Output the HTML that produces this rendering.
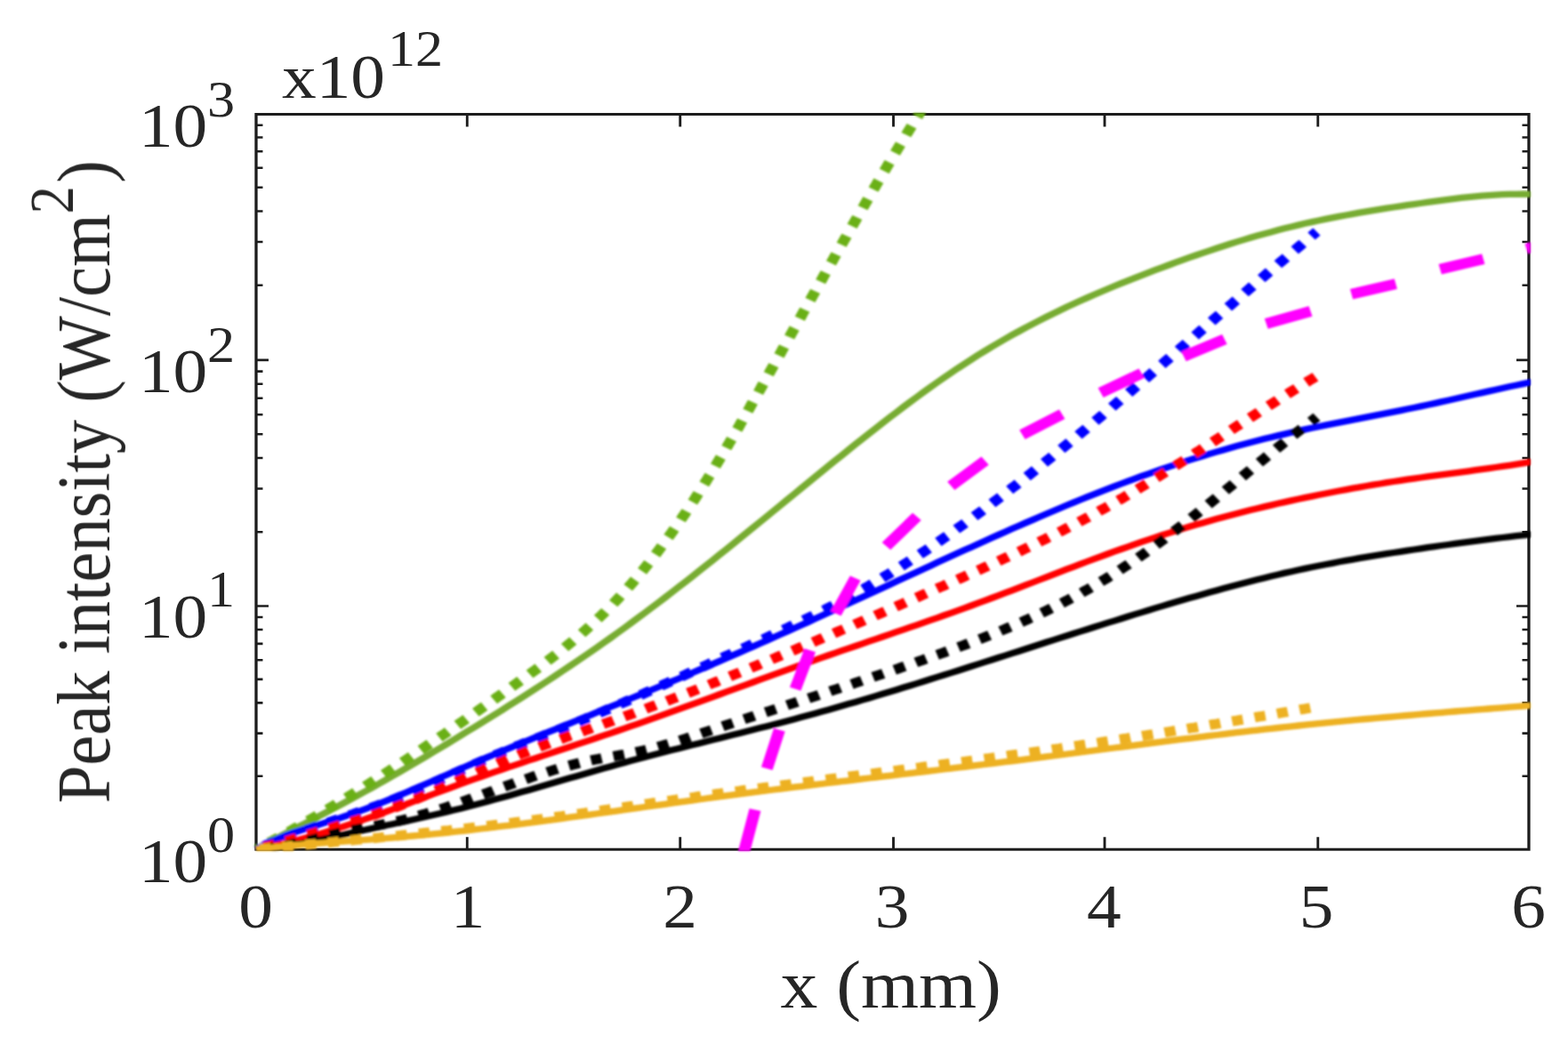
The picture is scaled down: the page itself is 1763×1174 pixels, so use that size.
<!DOCTYPE html>
<html lang="en"><head><meta charset="utf-8"><title>Peak intensity vs x</title>
<style>html,body{margin:0;padding:0;background:#fff}body{width:1763px;height:1174px;overflow:hidden}svg{display:block}</style></head>
<body>
<svg width="1763" height="1174" viewBox="0 0 1763 1174" role="img" aria-label="Peak intensity versus x">
<rect width="1763" height="1174" fill="#fff"/>
<defs><filter id="bc" x="-2%" y="-2%" width="104%" height="104%"><feGaussianBlur stdDeviation="0.85"/></filter><filter id="bt" x="-5%" y="-5%" width="110%" height="110%"><feGaussianBlur stdDeviation="0.7"/></filter><filter id="ba" x="-2%" y="-2%" width="104%" height="104%"><feGaussianBlur stdDeviation="0.4"/></filter></defs>
<g transform="scale(1.1 1)">
<g stroke="#1f1f1f" fill="none" stroke-width="3.0" filter="url(#ba)">
<rect x="261.8" y="128.5" width="1300.9" height="826.7"/>
<path d="M477.5 955.2v-14.0M477.5 128.5v14.0M695.2 955.2v-14.0M695.2 128.5v14.0M913.2 955.2v-14.0M913.2 128.5v14.0M1129.1 955.2v-14.0M1129.1 128.5v14.0M1347.1 955.2v-14.0M1347.1 128.5v14.0M261.8 681.5h12.7M1562.7 681.5h-12.7M261.8 404.9h12.7M1562.7 404.9h-12.7" stroke-width="2.6"/>
<path d="M261.8 872.8h6.8M1562.7 872.8h-6.8M261.8 824.6h6.8M1562.7 824.6h-6.8M261.8 790.4h6.8M1562.7 790.4h-6.8M261.8 763.9h6.8M1562.7 763.9h-6.8M261.8 742.2h6.8M1562.7 742.2h-6.8M261.8 723.9h6.8M1562.7 723.9h-6.8M261.8 708.0h6.8M1562.7 708.0h-6.8M261.8 694.0h6.8M1562.7 694.0h-6.8M261.8 598.2h6.8M1562.7 598.2h-6.8M261.8 549.5h6.8M1562.7 549.5h-6.8M261.8 515.0h6.8M1562.7 515.0h-6.8M261.8 488.2h6.8M1562.7 488.2h-6.8M261.8 466.3h6.8M1562.7 466.3h-6.8M261.8 447.7h6.8M1562.7 447.7h-6.8M261.8 431.7h6.8M1562.7 431.7h-6.8M261.8 417.6h6.8M1562.7 417.6h-6.8M261.8 320.7h6.8M1562.7 320.7h-6.8M261.8 272.0h6.8M1562.7 272.0h-6.8M261.8 237.5h6.8M1562.7 237.5h-6.8M261.8 210.7h6.8M1562.7 210.7h-6.8M261.8 188.8h6.8M1562.7 188.8h-6.8M261.8 170.3h6.8M1562.7 170.3h-6.8M261.8 154.5h6.8M1562.7 154.5h-6.8M261.8 140.8h6.8M1562.7 140.8h-6.8" stroke-width="2.6"/>
</g>
<defs><clipPath id="c"><rect x="260" y="126.9" width="1304.4" height="830.1"/></clipPath></defs>
<g filter="url(#bc)"><g clip-path="url(#c)" fill="none">
<path d="M261.8 955.2L268.8 950.9L275.7 946.7L282.7 942.6L289.7 938.5L296.6 934.5L303.6 930.5L310.6 926.6L317.5 922.6L324.5 918.6L331.4 914.7L338.4 910.7L345.4 906.6L352.3 902.5L359.3 898.4L366.3 894.2L373.2 890.0L380.2 885.8L387.1 881.5L394.1 877.1L401.1 872.7L408.0 868.3L415.0 863.9L421.9 859.4L428.9 854.9L435.9 850.4L442.8 845.8L449.8 841.2L456.8 836.6L463.7 832.0L470.7 827.3L477.6 822.6L484.6 818.0L491.6 813.2L498.5 808.5L505.5 803.7L512.5 799.0L519.4 794.1L526.4 789.3L533.3 784.4L540.3 779.5L547.3 774.6L554.2 769.6L561.2 764.6L568.2 759.5L575.1 754.4L582.1 749.3L589.0 744.1L596.0 738.9L603.0 733.6L609.9 728.3L616.9 722.9L623.9 717.5L630.8 712.0L637.8 706.5L644.7 700.9L651.7 695.2L658.7 689.5L665.6 683.8L672.6 678.0L679.6 672.1L686.5 666.3L693.5 660.3L700.4 654.4L707.4 648.4L714.4 642.3L721.3 636.3L728.3 630.2L735.2 624.0L742.2 617.9L749.2 611.7L756.1 605.5L763.1 599.3L770.1 593.1L777.0 586.9L784.0 580.6L790.9 574.4L797.9 568.1L804.9 561.8L811.8 555.6L818.8 549.3L825.8 543.0L832.7 536.8L839.7 530.5L846.6 524.3L853.6 518.1L860.6 511.9L867.5 505.7L874.5 499.6L881.5 493.5L888.4 487.4L895.4 481.4L902.3 475.4L909.3 469.5L916.3 463.7L923.2 457.9L930.2 452.1L937.2 446.5L944.1 440.9L951.1 435.4L958.0 430.0L965.0 424.6L972.0 419.4L978.9 414.2L985.9 409.2L992.9 404.2L999.8 399.3L1006.8 394.6L1013.7 390.0L1020.7 385.5L1027.7 381.0L1034.6 376.7L1041.6 372.5L1048.5 368.3L1055.5 364.3L1062.5 360.3L1069.4 356.5L1076.4 352.7L1083.4 349.0L1090.3 345.3L1097.3 341.8L1104.2 338.3L1111.2 334.9L1118.2 331.5L1125.1 328.2L1132.1 325.0L1139.1 321.8L1146.0 318.7L1153.0 315.6L1159.9 312.6L1166.9 309.6L1173.9 306.6L1180.8 303.7L1187.8 300.8L1194.8 298.0L1201.7 295.2L1208.7 292.4L1215.6 289.7L1222.6 287.0L1229.6 284.4L1236.5 281.8L1243.5 279.3L1250.5 276.8L1257.4 274.3L1264.4 271.9L1271.3 269.6L1278.3 267.3L1285.3 265.1L1292.2 262.9L1299.2 260.9L1306.2 258.8L1313.1 256.8L1320.1 254.9L1327.0 253.1L1334.0 251.3L1341.0 249.6L1347.9 248.0L1354.9 246.4L1361.8 244.9L1368.8 243.4L1375.8 242.0L1382.7 240.6L1389.7 239.2L1396.7 237.9L1403.6 236.7L1410.6 235.4L1417.5 234.2L1424.5 233.0L1431.5 231.9L1438.4 230.7L1445.4 229.6L1452.4 228.5L1459.3 227.4L1466.3 226.3L1473.2 225.3L1480.2 224.3L1487.2 223.3L1494.1 222.4L1501.1 221.6L1508.1 220.9L1515.0 220.2L1522.0 219.6L1528.9 219.1L1535.9 218.7L1542.9 218.4L1549.8 218.3L1556.8 218.2L1563.8 218.3L1566.4 218.4" stroke="#77AC30" stroke-width="7.3" stroke-linejoin="round"/>
<path d="M261.8 955.2L264.7 953.6M275.2 947.4L278.4 945.5L281.6 943.6L284.8 941.7M295.2 935.4L298.3 933.4L301.5 931.4L304.7 929.5M315.0 923.0L318.1 921.0L321.3 918.9L324.4 916.9M334.6 910.3L337.7 908.2L340.8 906.2L343.9 904.1M354.0 897.3L357.1 895.2L360.2 893.1L363.3 891.0M373.3 884.1L376.3 882.0L379.4 879.8L382.5 877.7M392.4 870.7L395.4 868.5L398.5 866.3L401.5 864.2M411.4 857.1L414.4 854.9L417.4 852.7L420.4 850.5M430.2 843.3L433.2 841.1L436.2 838.8L439.2 836.6M449.0 829.3L452.0 827.1L455.0 824.9L457.9 822.6M467.6 815.3L470.6 813.0L473.6 810.8L476.5 808.5M486.2 801.1L489.2 798.8L492.1 796.5L495.1 794.3M504.7 786.8L507.6 784.5L510.6 782.2L513.5 779.9M523.1 772.4L526.0 770.1L529.0 767.8L531.9 765.5M541.4 758.0L544.4 755.6L547.3 753.3L550.2 751.0M559.6 743.3L562.5 740.9L565.3 738.5L568.2 736.1M577.3 728.1L580.1 725.6L582.9 723.1L585.7 720.6M594.6 712.3L597.3 709.7L599.9 707.1L602.6 704.5M611.1 695.8L613.7 693.2L616.3 690.4L618.8 687.7M627.0 678.7L629.4 675.9L631.9 673.0L634.3 670.2M642.0 660.8L644.4 657.9L646.7 655.0L649.0 652.0M656.4 642.4L658.6 639.4L660.8 636.4L663.0 633.4M670.1 623.5L672.2 620.4L674.3 617.3L676.4 614.2M683.2 604.1L685.3 601.0L687.3 597.9L689.3 594.8M695.9 584.5L697.8 581.3L699.8 578.2L701.7 575.0M708.0 564.6L710.0 561.4L711.9 558.2L713.7 554.9M719.8 544.4L721.7 541.2L723.5 537.9L725.4 534.7M731.3 524.1L733.1 520.8L734.9 517.5L736.7 514.2M742.5 503.6L744.3 500.3L746.0 497.0L747.8 493.7M753.5 483.0L755.3 479.7L757.0 476.3L758.7 473.0M764.4 462.3L766.1 459.0L767.8 455.6L769.5 452.3M775.1 441.5L776.8 438.2L778.5 434.9L780.2 431.6M785.7 420.7L787.4 417.4L789.1 414.1L790.8 410.8M796.4 399.9L798.1 396.6L799.7 393.3L801.4 389.9M807.0 379.1L808.6 375.8L810.3 372.4L812.0 369.1M817.6 358.3L819.2 355.0L820.9 351.6L822.6 348.3M828.2 337.5L829.9 334.1L831.6 330.8L833.3 327.5M838.8 316.7L840.5 313.4L842.2 310.0L843.9 306.7M849.5 295.9L851.2 292.6L852.9 289.3L854.6 285.9M860.2 275.2L861.9 271.8L863.7 268.5L865.4 265.2M871.0 254.4L872.7 251.1L874.5 247.8L876.2 244.5M881.9 233.8L883.6 230.5L885.4 227.2L887.1 223.9M892.8 213.1L894.6 209.8L896.3 206.5L898.1 203.2M903.9 192.5L905.6 189.3L907.4 186.0L909.2 182.7M915.0 172.0L916.8 168.7L918.6 165.5L920.4 162.2M926.3 151.6L928.1 148.3L930.0 145.1L931.8 141.8M937.8 131.2L939.6 128.0L941.5 124.7L943.3 121.5" stroke="#6AB016" stroke-width="11.2"/>
<path d="M261.8 955.2L268.8 951.0L275.7 947.2L282.7 943.8L289.7 940.6L296.6 937.7L303.6 935.0L310.6 932.5L317.5 930.1L324.5 927.7L331.4 925.4L338.4 923.0L345.4 920.6L352.3 918.0L359.3 915.4L366.3 912.6L373.2 909.8L380.2 906.9L387.1 903.9L394.1 900.8L401.1 897.6L408.0 894.4L415.0 891.2L421.9 887.9L428.9 884.6L435.9 881.3L442.8 877.9L449.8 874.5L456.8 871.2L463.7 867.8L470.7 864.5L477.6 861.2L484.6 857.9L491.6 854.6L498.5 851.4L505.5 848.2L512.5 844.9L519.4 841.8L526.4 838.6L533.3 835.4L540.3 832.3L547.3 829.1L554.2 826.0L561.2 822.9L568.2 819.8L575.1 816.7L582.1 813.6L589.0 810.5L596.0 807.4L603.0 804.3L609.9 801.2L616.9 798.1L623.9 794.9L630.8 791.8L637.8 788.7L644.7 785.5L651.7 782.4L658.7 779.2L665.6 776.0L672.6 772.8L679.6 769.6L686.5 766.4L693.5 763.2L700.4 759.9L707.4 756.7L714.4 753.4L721.3 750.1L728.3 746.9L735.2 743.6L742.2 740.3L749.2 736.9L756.1 733.6L763.1 730.3L770.1 726.9L777.0 723.5L784.0 720.1L790.9 716.7L797.9 713.3L804.9 709.9L811.8 706.5L818.8 703.0L825.8 699.6L832.7 696.1L839.7 692.6L846.6 689.1L853.6 685.6L860.6 682.1L867.5 678.6L874.5 675.1L881.5 671.5L888.4 668.0L895.4 664.5L902.3 660.9L909.3 657.4L916.3 653.8L923.2 650.3L930.2 646.8L937.2 643.2L944.1 639.7L951.1 636.2L958.0 632.6L965.0 629.1L972.0 625.6L978.9 622.1L985.9 618.6L992.9 615.2L999.8 611.7L1006.8 608.3L1013.7 604.8L1020.7 601.4L1027.7 598.0L1034.6 594.6L1041.6 591.2L1048.5 587.9L1055.5 584.6L1062.5 581.3L1069.4 578.0L1076.4 574.7L1083.4 571.5L1090.3 568.3L1097.3 565.2L1104.2 562.0L1111.2 558.9L1118.2 555.9L1125.1 552.8L1132.1 549.9L1139.1 546.9L1146.0 544.0L1153.0 541.1L1159.9 538.3L1166.9 535.5L1173.9 532.8L1180.8 530.1L1187.8 527.5L1194.8 524.9L1201.7 522.4L1208.7 519.9L1215.6 517.4L1222.6 515.0L1229.6 512.7L1236.5 510.4L1243.5 508.1L1250.5 505.9L1257.4 503.7L1264.4 501.6L1271.3 499.6L1278.3 497.5L1285.3 495.6L1292.2 493.6L1299.2 491.7L1306.2 489.9L1313.1 488.1L1320.1 486.3L1327.0 484.6L1334.0 482.9L1341.0 481.3L1347.9 479.7L1354.9 478.1L1361.8 476.6L1368.8 475.1L1375.8 473.6L1382.7 472.1L1389.7 470.6L1396.7 469.1L1403.6 467.6L1410.6 466.1L1417.5 464.6L1424.5 463.1L1431.5 461.6L1438.4 460.0L1445.4 458.5L1452.4 456.9L1459.3 455.2L1466.3 453.6L1473.2 451.9L1480.2 450.2L1487.2 448.5L1494.1 446.8L1501.1 445.0L1508.1 443.3L1515.0 441.6L1522.0 439.9L1528.9 438.2L1535.9 436.5L1542.9 434.8L1549.8 433.2L1556.8 431.6L1563.8 430.0L1566.4 429.4" stroke="#0000FF" stroke-width="7.3" stroke-linejoin="round"/>
<path d="M270.1 951.3L273.5 949.7L276.9 948.2L280.3 946.7M291.5 941.9L295.0 940.5L298.4 939.1L301.9 937.7M313.2 933.3L316.7 931.9L320.2 930.6L323.7 929.3M335.1 925.1L338.6 923.8L342.1 922.5L345.6 921.2M357.0 917.0L360.5 915.7L364.0 914.3L367.5 913.0M378.8 908.7L382.3 907.3L385.8 905.9L389.2 904.5M400.5 899.8L403.9 898.3L407.3 896.8L410.7 895.3M421.8 890.3L425.2 888.7L428.6 887.1L431.9 885.5M442.9 880.2L446.2 878.6L449.6 877.0L452.9 875.3M463.8 869.9L467.2 868.3L470.5 866.6L473.9 865.0M484.8 859.6L488.1 857.9L491.5 856.3L494.9 854.7M505.8 849.4L509.2 847.8L512.6 846.3L516.0 844.7M527.0 839.7L530.5 838.2L533.9 836.6L537.3 835.1M548.4 830.3L551.9 828.8L555.3 827.3L558.7 825.8M569.9 821.0L573.3 819.5L576.7 818.0L580.1 816.5M591.2 811.6L594.6 810.0L598.0 808.5L601.4 806.9M612.5 801.8L615.9 800.2L619.2 798.7L622.6 797.1M633.6 791.8L637.0 790.2L640.3 788.6L643.7 787.0M654.6 781.6L658.0 780.0L661.3 778.3L664.7 776.7M675.6 771.3L678.9 769.6L682.2 768.0L685.6 766.3M696.4 760.9L699.8 759.2L703.1 757.5L706.5 755.8M717.3 750.3L720.6 748.7L724.0 747.0L727.3 745.3M738.2 739.8L741.5 738.1L744.8 736.5L748.2 734.8M759.0 729.3L762.4 727.7L765.7 726.0L769.1 724.3M779.9 718.9L783.3 717.2L786.6 715.5L789.9 713.8M800.7 708.3L804.1 706.6L807.4 704.8L810.7 703.1M821.4 697.5L824.7 695.7L828.0 693.9L831.3 692.2M842.0 686.3L845.2 684.5L848.5 682.6L851.7 680.8M862.2 674.7L865.4 672.8L868.7 670.9L871.8 668.9M882.2 662.5L885.4 660.6L888.5 658.6L891.7 656.5M901.8 649.9L904.9 647.8L908.1 645.8L911.1 643.7M921.2 636.8L924.2 634.7L927.3 632.5L930.3 630.4M940.2 623.3L943.3 621.1L946.3 618.9L949.3 616.7M959.0 609.4L962.0 607.2L965.0 604.9L968.0 602.7M977.6 595.2L980.5 592.9L983.5 590.6L986.4 588.3M995.9 580.7L998.8 578.4L1001.7 576.1L1004.6 573.7M1014.0 566.0L1016.9 563.6L1019.8 561.2L1022.7 558.9M1032.0 551.0L1034.8 548.6L1037.7 546.2L1040.5 543.8M1049.7 535.9L1052.6 533.4L1055.4 531.0L1058.2 528.5M1067.3 520.5L1070.1 518.1L1072.9 515.6L1075.7 513.1M1084.8 505.0L1087.6 502.5L1090.4 500.0L1093.2 497.5M1102.2 489.4L1104.9 486.9L1107.7 484.4L1110.5 481.8M1119.4 473.6L1122.2 471.1L1124.9 468.6L1127.7 466.0M1136.6 457.8L1139.3 455.2L1142.0 452.7L1144.8 450.1M1153.7 441.8L1156.4 439.3L1159.1 436.7L1161.8 434.2M1170.7 425.8L1173.4 423.3L1176.1 420.7L1178.8 418.1M1187.6 409.8L1190.4 407.2L1193.1 404.6L1195.8 402.1M1204.6 393.7L1207.3 391.1L1210.0 388.6L1212.7 386.0M1221.5 377.6L1224.2 375.0L1226.9 372.4L1229.6 369.9M1238.4 361.5L1241.1 358.9L1243.8 356.3L1246.5 353.8M1255.3 345.4L1258.1 342.8L1260.8 340.2L1263.5 337.7M1272.3 329.3L1275.0 326.7L1277.7 324.2L1280.4 321.6M1289.3 313.3L1292.0 310.7L1294.7 308.1L1297.4 305.6M1306.3 297.3L1309.0 294.7L1311.8 292.2L1314.5 289.6M1323.4 281.3L1326.1 278.8L1328.9 276.3L1331.6 273.7M1340.5 265.5L1343.2 263.0L1345.9 260.6" stroke="#0000FF" stroke-width="11.2"/>
<path d="M261.8 955.2L268.8 953.7L275.7 952.0L282.7 950.3L289.7 948.6L296.6 946.7L303.6 944.7L310.6 942.7L317.5 940.6L324.5 938.4L331.4 936.2L338.4 933.8L345.4 931.4L352.3 929.0L359.3 926.4L366.3 923.8L373.2 921.2L380.2 918.5L387.1 915.7L394.1 913.0L401.1 910.2L408.0 907.3L415.0 904.5L421.9 901.6L428.9 898.8L435.9 895.9L442.8 893.0L449.8 890.2L456.8 887.3L463.7 884.5L470.7 881.7L477.6 878.9L484.6 876.2L491.6 873.5L498.5 870.8L505.5 868.2L512.5 865.6L519.4 862.9L526.4 860.4L533.3 857.8L540.3 855.2L547.3 852.7L554.2 850.1L561.2 847.6L568.2 845.0L575.1 842.5L582.1 840.0L589.0 837.4L596.0 834.9L603.0 832.3L609.9 829.8L616.9 827.2L623.9 824.6L630.8 822.0L637.8 819.4L644.7 816.7L651.7 814.1L658.7 811.4L665.6 808.7L672.6 805.9L679.6 803.2L686.5 800.4L693.5 797.7L700.4 794.9L707.4 792.1L714.4 789.3L721.3 786.6L728.3 783.8L735.2 781.0L742.2 778.2L749.2 775.4L756.1 772.6L763.1 769.8L770.1 767.0L777.0 764.2L784.0 761.4L790.9 758.7L797.9 755.9L804.9 753.2L811.8 750.4L818.8 747.7L825.8 745.0L832.7 742.3L839.7 739.7L846.6 737.0L853.6 734.4L860.6 731.7L867.5 729.1L874.5 726.5L881.5 723.9L888.4 721.2L895.4 718.6L902.3 716.0L909.3 713.4L916.3 710.7L923.2 708.1L930.2 705.4L937.2 702.8L944.1 700.1L951.1 697.4L958.0 694.8L965.0 692.0L972.0 689.3L978.9 686.6L985.9 683.8L992.9 681.0L999.8 678.2L1006.8 675.3L1013.7 672.5L1020.7 669.6L1027.7 666.7L1034.6 663.8L1041.6 660.8L1048.5 657.9L1055.5 655.0L1062.5 652.0L1069.4 649.1L1076.4 646.1L1083.4 643.2L1090.3 640.2L1097.3 637.3L1104.2 634.4L1111.2 631.5L1118.2 628.7L1125.1 625.8L1132.1 623.0L1139.1 620.2L1146.0 617.5L1153.0 614.8L1159.9 612.1L1166.9 609.4L1173.9 606.9L1180.8 604.3L1187.8 601.8L1194.8 599.4L1201.7 597.0L1208.7 594.6L1215.6 592.3L1222.6 590.1L1229.6 587.9L1236.5 585.7L1243.5 583.6L1250.5 581.5L1257.4 579.5L1264.4 577.5L1271.3 575.5L1278.3 573.6L1285.3 571.7L1292.2 569.9L1299.2 568.1L1306.2 566.3L1313.1 564.6L1320.1 562.9L1327.0 561.3L1334.0 559.6L1341.0 558.1L1347.9 556.5L1354.9 555.0L1361.8 553.5L1368.8 552.0L1375.8 550.6L1382.7 549.2L1389.7 547.9L1396.7 546.5L1403.6 545.2L1410.6 544.0L1417.5 542.7L1424.5 541.5L1431.5 540.3L1438.4 539.2L1445.4 538.1L1452.4 537.0L1459.3 535.9L1466.3 534.9L1473.2 533.8L1480.2 532.8L1487.2 531.8L1494.1 530.8L1501.1 529.8L1508.1 528.7L1515.0 527.7L1522.0 526.6L1528.9 525.5L1535.9 524.4L1542.9 523.3L1549.8 522.1L1556.8 520.9L1563.8 519.6L1566.4 519.1" stroke="#FF0000" stroke-width="7.3" stroke-linejoin="round"/>
<path d="M270.0 952.7L273.5 951.6L277.1 950.6L280.7 949.5M292.3 945.9L295.9 944.8L299.4 943.6L303.0 942.5M314.6 938.8L318.1 937.7L321.7 936.6L325.2 935.4M336.8 931.7L340.4 930.5L343.9 929.3L347.4 928.2M359.0 924.3L362.5 923.2L366.1 922.0L369.6 920.7M381.1 916.7L384.6 915.4L388.1 914.1L391.6 912.8M402.9 908.4L406.3 907.0L409.8 905.5L413.2 904.0M424.3 899.1L427.7 897.6L431.1 896.0L434.5 894.4M445.5 889.2L448.9 887.6L452.2 886.0L455.6 884.3M466.5 879.0L469.8 877.4L473.2 875.7L476.5 874.1M487.5 868.7L490.8 867.1L494.2 865.4L497.5 863.8M508.5 858.6L511.9 857.0L515.3 855.5L518.7 853.9M529.8 849.0L533.2 847.5L536.7 846.0L540.1 844.6M551.3 839.9L554.8 838.5L558.2 837.1L561.7 835.7M573.0 831.2L576.5 829.8L579.9 828.4L583.4 827.1M594.8 822.7L598.2 821.3L601.7 820.0L605.2 818.6M616.5 814.3L620.0 812.9L623.5 811.6L627.0 810.2M638.3 805.8L641.8 804.4L645.3 803.1L648.7 801.7M660.0 797.2L663.5 795.7L666.9 794.3L670.4 792.9M681.6 788.3L685.1 786.8L688.5 785.4L692.0 784.0M703.2 779.2L706.6 777.8L710.0 776.3L713.5 774.8M724.6 770.0L728.0 768.5L731.5 767.0L734.9 765.5M746.0 760.6L749.4 759.1L752.8 757.6L756.3 756.1M767.4 751.1L770.8 749.6L774.2 748.1L777.6 746.5M788.7 741.5L792.1 740.0L795.5 738.4L798.9 736.9M809.9 731.8L813.3 730.3L816.7 728.7L820.1 727.2M831.1 722.1L834.5 720.5L837.9 718.9L841.3 717.3M852.3 712.2L855.7 710.6L859.1 709.0L862.5 707.5M873.5 702.3L876.8 700.7L880.2 699.1L883.6 697.5M894.6 692.3L897.9 690.7L901.3 689.1L904.7 687.5M915.6 682.2L919.0 680.6L922.4 679.0L925.7 677.4M936.7 672.1L940.1 670.5L943.4 668.8L946.8 667.2M957.7 661.9L961.1 660.3L964.5 658.7L967.8 657.0M978.7 651.7L982.1 650.1L985.5 648.4L988.8 646.8M999.7 641.4L1003.1 639.8L1006.4 638.1L1009.7 636.4M1020.6 631.0L1024.0 629.3L1027.3 627.6L1030.6 625.9M1041.4 620.4L1044.7 618.7L1048.1 616.9L1051.4 615.2M1062.1 609.5L1065.4 607.7L1068.7 606.0L1072.0 604.2M1082.6 598.4L1085.9 596.6L1089.2 594.7L1092.4 592.9M1103.0 586.9L1106.2 585.0L1109.4 583.2L1112.7 581.3M1123.1 575.1L1126.3 573.1L1129.5 571.2L1132.7 569.3M1143.0 562.8L1146.2 560.9L1149.3 558.9L1152.5 556.8M1162.7 550.2L1165.8 548.2L1168.9 546.1L1172.0 544.0M1182.1 537.2L1185.2 535.2L1188.3 533.0L1191.4 530.9M1201.4 524.0L1204.4 521.9L1207.5 519.7L1210.6 517.6M1220.5 510.6L1223.5 508.4L1226.6 506.3L1229.6 504.1M1239.5 497.1L1242.6 494.9L1245.6 492.7L1248.6 490.6M1258.5 483.5L1261.6 481.3L1264.6 479.1L1267.7 477.0M1277.6 469.9L1280.6 467.8L1283.7 465.6L1286.7 463.4M1296.6 456.4L1299.7 454.3L1302.8 452.2L1305.8 450.0M1315.8 443.1L1318.9 441.0L1322.0 438.9L1325.1 436.8M1335.2 430.0L1338.3 427.9L1341.4 425.9L1344.5 423.8" stroke="#FF0000" stroke-width="11.2"/>
<path d="M261.8 955.2L268.8 954.7L275.7 954.0L282.7 953.0L289.7 952.0L296.6 950.8L303.6 949.4L310.6 948.0L317.5 946.4L324.5 944.8L331.4 943.2L338.4 941.5L345.4 939.8L352.3 938.2L359.3 936.5L366.3 934.9L373.2 933.2L380.2 931.6L387.1 930.0L394.1 928.3L401.1 926.7L408.0 925.0L415.0 923.4L421.9 921.7L428.9 920.0L435.9 918.2L442.8 916.5L449.8 914.7L456.8 912.9L463.7 911.0L470.7 909.2L477.6 907.2L484.6 905.3L491.6 903.3L498.5 901.2L505.5 899.1L512.5 897.0L519.4 894.9L526.4 892.8L533.3 890.6L540.3 888.4L547.3 886.2L554.2 884.0L561.2 881.8L568.2 879.5L575.1 877.3L582.1 875.1L589.0 872.9L596.0 870.7L603.0 868.5L609.9 866.3L616.9 864.1L623.9 862.0L630.8 859.8L637.8 857.7L644.7 855.6L651.7 853.6L658.7 851.5L665.6 849.5L672.6 847.5L679.6 845.6L686.5 843.6L693.5 841.7L700.4 839.7L707.4 837.8L714.4 835.9L721.3 834.0L728.3 832.1L735.2 830.2L742.2 828.2L749.2 826.3L756.1 824.4L763.1 822.5L770.1 820.6L777.0 818.6L784.0 816.7L790.9 814.7L797.9 812.7L804.9 810.7L811.8 808.7L818.8 806.6L825.8 804.5L832.7 802.4L839.7 800.3L846.6 798.2L853.6 796.0L860.6 793.8L867.5 791.6L874.5 789.4L881.5 787.1L888.4 784.9L895.4 782.6L902.3 780.3L909.3 778.0L916.3 775.7L923.2 773.3L930.2 771.0L937.2 768.6L944.1 766.2L951.1 763.8L958.0 761.4L965.0 759.0L972.0 756.6L978.9 754.2L985.9 751.8L992.9 749.3L999.8 746.9L1006.8 744.4L1013.7 742.0L1020.7 739.5L1027.7 737.1L1034.6 734.6L1041.6 732.2L1048.5 729.7L1055.5 727.2L1062.5 724.8L1069.4 722.3L1076.4 719.9L1083.4 717.4L1090.3 715.0L1097.3 712.5L1104.2 710.1L1111.2 707.7L1118.2 705.3L1125.1 702.9L1132.1 700.4L1139.1 698.1L1146.0 695.7L1153.0 693.3L1159.9 690.9L1166.9 688.6L1173.9 686.3L1180.8 683.9L1187.8 681.6L1194.8 679.3L1201.7 677.1L1208.7 674.8L1215.6 672.6L1222.6 670.4L1229.6 668.2L1236.5 666.0L1243.5 663.9L1250.5 661.8L1257.4 659.7L1264.4 657.7L1271.3 655.7L1278.3 653.7L1285.3 651.8L1292.2 649.9L1299.2 648.0L1306.2 646.2L1313.1 644.4L1320.1 642.7L1327.0 641.0L1334.0 639.4L1341.0 637.8L1347.9 636.2L1354.9 634.7L1361.8 633.3L1368.8 631.8L1375.8 630.4L1382.7 629.1L1389.7 627.7L1396.7 626.4L1403.6 625.2L1410.6 623.9L1417.5 622.7L1424.5 621.5L1431.5 620.3L1438.4 619.1L1445.4 618.0L1452.4 616.9L1459.3 615.7L1466.3 614.6L1473.2 613.5L1480.2 612.5L1487.2 611.4L1494.1 610.4L1501.1 609.3L1508.1 608.3L1515.0 607.4L1522.0 606.4L1528.9 605.4L1535.9 604.5L1542.9 603.6L1549.8 602.7L1556.8 601.8L1563.8 601.0L1566.4 600.6" stroke="#000000" stroke-width="7.3" stroke-linejoin="round"/>
<path d="M269.0 954.7L272.7 954.3L276.4 953.8L280.1 953.3M292.0 951.0L295.7 950.2L299.3 949.3L302.9 948.5M314.7 945.4L318.3 944.4L321.9 943.4L325.5 942.4M337.2 939.1L340.8 938.1L344.4 937.2L348.0 936.2M359.9 933.5L363.5 932.7L367.2 931.9L370.8 931.2M382.8 928.8L386.4 928.1L390.1 927.3L393.7 926.5M405.6 923.7L409.2 922.8L412.8 921.8L416.4 920.8M428.0 917.4L431.6 916.2L435.2 915.1L438.7 913.9M450.2 909.9L453.7 908.7L457.2 907.4L460.7 906.1M472.1 901.8L475.6 900.4L479.0 899.1L482.5 897.7M493.8 893.3L497.3 891.9L500.8 890.5L504.2 889.1M515.5 884.6L519.0 883.3L522.5 881.9L526.0 880.5M537.3 876.2L540.8 874.9L544.3 873.6L547.8 872.3M559.3 868.2L562.8 867.0L566.3 865.8L569.9 864.6M581.5 861.0L585.1 860.0L588.7 859.0L592.3 858.0M604.1 855.0L607.7 854.2L611.4 853.5L615.0 852.7M627.0 850.5L630.7 849.8L634.3 849.1L638.0 848.4M649.9 845.8L653.5 845.0L657.1 844.1L660.7 843.2M672.5 839.9L676.0 838.8L679.6 837.7L683.2 836.6M694.7 832.7L698.2 831.5L701.7 830.3L705.2 829.0M716.7 824.8L720.2 823.5L723.7 822.2L727.2 821.0M738.6 816.8L742.1 815.5L745.6 814.2L749.1 813.0M760.6 808.8L764.1 807.6L767.6 806.3L771.1 805.0M782.6 800.9L786.1 799.7L789.6 798.4L793.1 797.2M804.5 793.1L808.1 791.8L811.6 790.6L815.1 789.3M826.5 785.2L830.1 783.9L833.6 782.7L837.1 781.4M848.5 777.3L852.0 776.0L855.6 774.8L859.1 773.5M870.5 769.4L874.0 768.1L877.5 766.8L881.0 765.5M892.4 761.3L895.9 760.0L899.4 758.7L902.9 757.4M914.3 753.2L917.8 751.9L921.3 750.5L924.8 749.2M936.2 744.9L939.6 743.5L943.1 742.2L946.6 740.8M957.9 736.4L961.4 735.1L964.9 733.7L968.4 732.3M979.6 727.8L983.1 726.4L986.5 725.0L990.0 723.5M1001.2 718.8L1004.7 717.4L1008.1 715.9L1011.5 714.4M1022.6 709.5L1026.0 708.0L1029.4 706.4L1032.8 704.9M1043.8 699.7L1047.2 698.1L1050.5 696.4L1053.9 694.8M1064.7 689.3L1068.1 687.6L1071.4 685.8L1074.7 684.1M1085.3 678.3L1088.6 676.4L1091.8 674.6L1095.1 672.7M1105.6 666.6L1108.7 664.6L1111.9 662.7L1115.1 660.7M1125.3 654.1L1128.5 652.1L1131.6 650.0L1134.7 647.9M1144.6 641.0L1147.7 638.8L1150.7 636.6L1153.7 634.4M1163.5 627.1L1166.4 624.9L1169.4 622.6L1172.3 620.3M1181.8 612.7L1184.7 610.4L1187.6 608.0L1190.5 605.6M1199.8 597.8L1202.7 595.4L1205.5 593.0L1208.4 590.6M1217.6 582.6L1220.4 580.2L1223.2 577.7L1226.0 575.3M1235.1 567.2L1237.9 564.7L1240.7 562.2L1243.5 559.7M1252.5 551.6L1255.3 549.1L1258.1 546.6L1260.8 544.1M1269.8 536.0L1272.6 533.5L1275.4 530.9L1278.2 528.4M1287.2 520.3L1290.0 517.8L1292.7 515.3L1295.5 512.8M1304.6 504.7L1307.4 502.2L1310.2 499.7L1313.0 497.3M1322.1 489.3L1324.9 486.8L1327.7 484.4L1330.6 481.9M1339.8 474.0L1342.9 471.5L1345.9 468.9" stroke="#000000" stroke-width="11.2"/>
<path d="M261.8 955.2L268.8 954.3L275.7 953.4L282.7 952.6L289.7 951.8L296.6 951.1L303.6 950.4L310.6 949.7L317.5 949.0L324.5 948.4L331.4 947.8L338.4 947.2L345.4 946.6L352.3 946.1L359.3 945.5L366.3 944.9L373.2 944.4L380.2 943.8L387.1 943.2L394.1 942.6L401.1 942.0L408.0 941.4L415.0 940.7L421.9 940.0L428.9 939.3L435.9 938.6L442.8 937.8L449.8 937.1L456.8 936.3L463.7 935.4L470.7 934.6L477.6 933.8L484.6 932.9L491.6 932.0L498.5 931.1L505.5 930.2L512.5 929.2L519.4 928.3L526.4 927.3L533.3 926.4L540.3 925.4L547.3 924.4L554.2 923.4L561.2 922.4L568.2 921.3L575.1 920.3L582.1 919.2L589.0 918.2L596.0 917.1L603.0 916.1L609.9 915.0L616.9 914.0L623.9 912.9L630.8 911.8L637.8 910.7L644.7 909.7L651.7 908.6L658.7 907.5L665.6 906.4L672.6 905.4L679.6 904.3L686.5 903.2L693.5 902.2L700.4 901.1L707.4 900.1L714.4 899.0L721.3 898.0L728.3 896.9L735.2 895.9L742.2 894.9L749.2 893.9L756.1 892.9L763.1 891.9L770.1 890.9L777.0 890.0L784.0 889.0L790.9 888.0L797.9 887.1L804.9 886.1L811.8 885.2L818.8 884.3L825.8 883.3L832.7 882.4L839.7 881.5L846.6 880.5L853.6 879.6L860.6 878.7L867.5 877.8L874.5 876.9L881.5 875.9L888.4 875.0L895.4 874.1L902.3 873.2L909.3 872.3L916.3 871.4L923.2 870.5L930.2 869.6L937.2 868.7L944.1 867.8L951.1 866.9L958.0 866.0L965.0 865.0L972.0 864.1L978.9 863.2L985.9 862.3L992.9 861.4L999.8 860.4L1006.8 859.5L1013.7 858.6L1020.7 857.6L1027.7 856.7L1034.6 855.8L1041.6 854.8L1048.5 853.8L1055.5 852.9L1062.5 851.9L1069.4 850.9L1076.4 850.0L1083.4 849.0L1090.3 848.0L1097.3 847.0L1104.2 846.0L1111.2 845.0L1118.2 844.0L1125.1 843.0L1132.1 842.0L1139.1 841.0L1146.0 840.1L1153.0 839.1L1159.9 838.1L1166.9 837.1L1173.9 836.1L1180.8 835.1L1187.8 834.1L1194.8 833.2L1201.7 832.2L1208.7 831.2L1215.6 830.3L1222.6 829.3L1229.6 828.4L1236.5 827.4L1243.5 826.5L1250.5 825.6L1257.4 824.6L1264.4 823.7L1271.3 822.8L1278.3 821.9L1285.3 821.1L1292.2 820.2L1299.2 819.3L1306.2 818.5L1313.1 817.6L1320.1 816.8L1327.0 816.0L1334.0 815.2L1341.0 814.4L1347.9 813.7L1354.9 812.9L1361.8 812.1L1368.8 811.4L1375.8 810.7L1382.7 809.9L1389.7 809.2L1396.7 808.5L1403.6 807.8L1410.6 807.1L1417.5 806.5L1424.5 805.8L1431.5 805.1L1438.4 804.5L1445.4 803.8L1452.4 803.2L1459.3 802.5L1466.3 801.9L1473.2 801.3L1480.2 800.7L1487.2 800.0L1494.1 799.4L1501.1 798.8L1508.1 798.2L1515.0 797.6L1522.0 797.0L1528.9 796.4L1535.9 795.8L1542.9 795.2L1549.8 794.6L1556.8 794.0L1563.8 793.4L1566.4 793.1" stroke="#EDB120" stroke-width="7.3" stroke-linejoin="round"/>
<path d="M265.5 954.8L269.2 954.4L272.9 954.0L276.6 953.7M288.7 952.4L292.4 952.0L296.1 951.6L299.8 951.3M311.9 950.0L315.7 949.6L319.4 949.2L323.1 948.8M335.2 947.6L338.9 947.2L342.6 946.8L346.3 946.4M358.4 945.1L362.1 944.7L365.8 944.3L369.5 943.9M381.6 942.6L385.3 942.2L389.0 941.8L392.8 941.3M404.8 940.0L408.6 939.6L412.3 939.1L416.0 938.7M428.0 937.3L431.8 936.9L435.5 936.4L439.2 936.0M451.2 934.6L455.0 934.1L458.7 933.7L462.4 933.2M474.4 931.7L478.1 931.2L481.8 930.7L485.5 930.3M497.6 928.7L501.3 928.2L505.0 927.7L508.7 927.2M520.7 925.6L524.4 925.1L528.1 924.5L531.8 924.0M543.9 922.3L547.6 921.8L551.3 921.2L555.0 920.7M567.0 918.9L570.7 918.3L574.4 917.8L578.1 917.2M590.1 915.3L593.8 914.8L597.4 914.2L601.1 913.6M613.1 911.7L616.8 911.1L620.5 910.5L624.2 909.9M636.2 908.0L639.9 907.4L643.6 906.8L647.3 906.2M659.3 904.3L663.0 903.7L666.7 903.1L670.3 902.5M682.4 900.6L686.0 900.1L689.7 899.5L693.4 898.9M705.4 897.0L709.1 896.5L712.8 895.9L716.5 895.3M728.5 893.5L732.2 892.9L735.9 892.4L739.6 891.8M751.6 890.0L755.3 889.5L759.0 888.9L762.7 888.4M774.7 886.6L778.4 886.1L782.1 885.5L785.8 885.0M797.8 883.3L801.5 882.7L805.2 882.2L808.9 881.7M821.0 879.9L824.7 879.4L828.4 878.9L832.1 878.3M844.1 876.6L847.8 876.1L851.5 875.6L855.2 875.1M867.2 873.4L870.9 872.8L874.6 872.3L878.3 871.8M890.4 870.1L894.1 869.6L897.7 869.0L901.4 868.5M913.5 866.8L917.2 866.3L920.9 865.7L924.6 865.2M936.6 863.5L940.3 863.0L944.0 862.4L947.7 861.9M959.7 860.2L963.4 859.6L967.1 859.1L970.8 858.6M982.8 856.8L986.5 856.3L990.2 855.7L993.9 855.2M1006.0 853.4L1009.7 852.9L1013.3 852.3L1017.0 851.8M1029.1 850.0L1032.8 849.4L1036.4 848.8L1040.1 848.3M1052.2 846.4L1055.8 845.9L1059.5 845.3L1063.2 844.7M1075.2 842.8L1078.9 842.2L1082.6 841.7L1086.3 841.1M1098.3 839.1L1102.0 838.5L1105.7 837.9L1109.4 837.3M1121.4 835.4L1125.0 834.8L1128.7 834.1L1132.4 833.5M1144.4 831.5L1148.1 830.9L1151.8 830.3L1155.4 829.6M1167.4 827.6L1171.1 826.9L1174.8 826.3L1178.5 825.7M1190.4 823.6L1194.1 822.9L1197.8 822.3L1201.5 821.6M1213.4 819.5L1217.1 818.8L1220.8 818.2L1224.5 817.5M1236.4 815.3L1240.1 814.6L1243.8 814.0L1247.4 813.3M1259.4 811.1L1263.1 810.4L1266.7 809.7L1270.4 809.1M1282.4 806.8L1286.0 806.1L1289.7 805.4L1293.4 804.8M1305.3 802.5L1309.0 801.8L1312.7 801.1L1316.3 800.4M1328.3 798.1L1331.9 797.4L1335.6 796.7L1339.3 796.0" stroke="#EDB120" stroke-width="11.2"/>
<path d="M759.0 963.9L771.8 910.7M783.9 864.2L796.7 820.8M812.9 774.8L828.0 731.3M905.9 614.1L937.2 580.8M972.1 546.3L1006.9 518.2M1044.9 488.8L1085.6 465.8M1125.1 441.6L1166.9 419.8M1209.9 400.7L1251.7 381.5M1294.3 364.1L1339.6 350.0M1381.4 330.8L1426.7 319.3M1472.0 302.7L1516.2 291.2M1560.3 279.7L1571.9 276.4M854.3 689.9L874.3 650.1" stroke="#FF00FF" stroke-width="12.0"/>
</g></g>
</g>
<g transform="scale(1.1 1)" fill="#262626" font-family="Liberation Serif, serif" filter="url(#bt)">
<text x="261.4" y="1043.3" font-size="70.3" text-anchor="middle">0</text>
<text x="478.2" y="1043.3" font-size="70.3" text-anchor="middle">1</text>
<text x="695.0" y="1043.3" font-size="70.3" text-anchor="middle">2</text>
<text x="911.8" y="1043.3" font-size="70.3" text-anchor="middle">3</text>
<text x="1128.6" y="1043.3" font-size="70.3" text-anchor="middle">4</text>
<text x="1345.5" y="1043.3" font-size="70.3" text-anchor="middle">5</text>
<text x="1562.3" y="1043.3" font-size="70.3" text-anchor="middle">6</text>
<text x="141.8" y="992.2" font-size="70.3">10</text>
<text x="211.8" y="957.7" font-size="56.5">0</text>
<text x="141.8" y="716.6" font-size="70.3">10</text>
<text x="211.8" y="682.1" font-size="56.5">1</text>
<text x="141.8" y="441.1" font-size="70.3">10</text>
<text x="211.8" y="406.6" font-size="56.5">2</text>
<text x="141.8" y="165.5" font-size="70.3">10</text>
<text x="211.8" y="131.0" font-size="56.5">3</text>
<text x="288.2" y="109.8" font-size="70.3">x10</text>
<text x="396.4" y="74.4" font-size="56.5">12</text>
<text x="910.7" y="1132.9" font-size="76.0" text-anchor="middle">x (mm)</text>
<text transform="translate(111.6 903.3) rotate(-90)" font-size="76.5">Peak intensity (W/cm<tspan dy="-37.5" font-size="62.5">2</tspan><tspan dy="37.5" dx="3.5">)</tspan></text>
</g>
</svg>
</body></html>
